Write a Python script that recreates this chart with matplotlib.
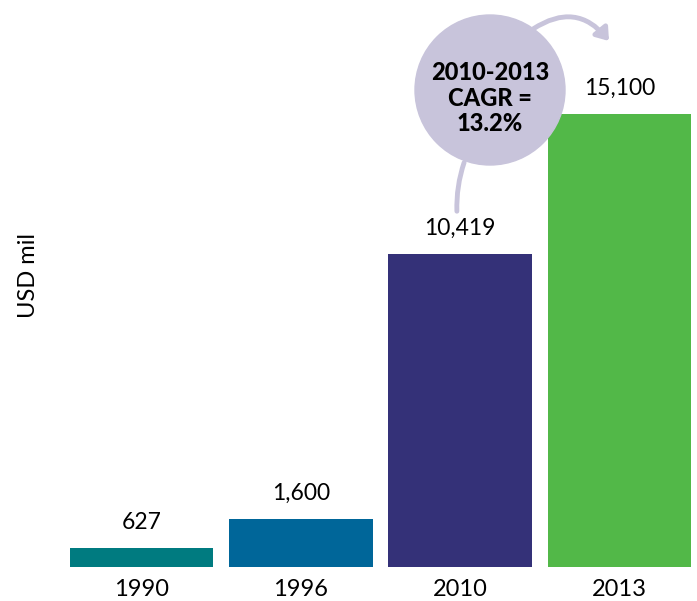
import matplotlib.pyplot as plt
from matplotlib.patches import Circle, FancyArrowPatch

years = ['1990', '1996', '2010', '2013']
values = [627, 1600, 10419, 15100]
colors = ['#007B80', '#006699', '#343178', '#52B848']

font = 'Lato'
lav = '#C8C4DB'

fig = plt.figure(figsize=(6.97, 6.01), dpi=100)
ax = fig.add_axes([62 / 697, 34 / 601, 637 / 697, 540 / 601])
x = range(len(years))
bars = ax.bar(x, values, width=0.9, color=colors)
ax.set_xlim(-0.5, 3.5)
ax.set_ylim(0, 18000)
for b, v in zip(bars, values):
    ax.annotate(f'{v:,}', (b.get_x() + b.get_width() / 2, v), xytext=(0, 11),
                textcoords='offset points', ha='center', va='bottom',
                fontsize=16.5, family=font)
ax.set_xticks(list(x))
ax.set_xticklabels(years, fontsize=17, family=font)
ax.tick_params(length=0, pad=9)
ax.set_yticks([])
for s in ax.spines.values():
    s.set_visible(False)
fig.text(29 / 697, 1 - 275 / 601, 'USD mil', rotation=90, ha='center', va='center',
         fontsize=17, family=font)

# overlay in pixel coordinates for the CAGR bubble
ov = fig.add_axes([0, 0, 1, 1])
ov.set_xlim(0, 697)
ov.set_ylim(601, 0)
ov.axis('off')
ov.add_patch(Circle((490, 90), 75, color=lav, zorder=3))
ov.add_patch(FancyArrowPatch((465, 160), (457, 214), connectionstyle='arc3,rad=0.1',
                             arrowstyle='-', color=lav, lw=3.5, zorder=2))
ov.add_patch(FancyArrowPatch((533, 29), (609, 41), connectionstyle='arc3,rad=-0.45',
                             arrowstyle='-|>,head_length=7,head_width=5', color=lav,
                             lw=3.5, zorder=2, shrinkA=0, shrinkB=0))
ov.text(490, 98, '2010-2013\nCAGR =\n13.2%', ha='center', va='center', fontsize=17,
        fontweight='black', family=font, linespacing=1.12, zorder=4)

fig.savefig('out.png', dpi=100)
